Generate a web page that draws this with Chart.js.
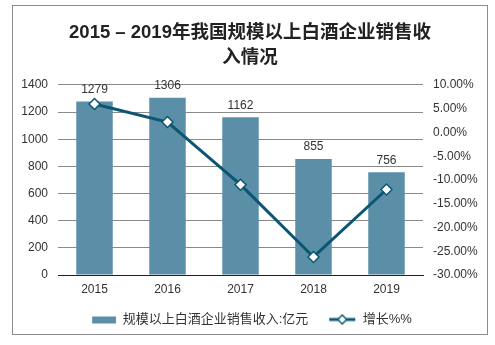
<!DOCTYPE html>
<html>
<head>
<meta charset="utf-8">
<script src="https://cdn.jsdelivr.net/npm/chart.js@4"></script>
<style>
  body { margin: 0; background: #fff; }
  #box { position: absolute; left: 12px; top: 5px; width: 476px; height: 330px; border: 1px solid #8c8c8c; box-sizing: border-box; }
  #box canvas { display: block; }
</style>
</head>
<body>
<div id="box"><canvas id="c" width="474" height="328"></canvas></div>
<script>
// データ
var years = ["2015", "2016", "2017", "2018", "2019"];
var revenue = [1279, 1306, 1162, 855, 756];
var growth = [6.0, 2.2, -11.0, -26.2, -12.0];
var barName = "规模以上白酒企业销售收入:亿元";
var lineName = "增长%%";
var titleLines = ["2015 – 2019年我国规模以上白酒企业销售收", "入情况"];

var barColor = "#5b8fa7";
var lineColor = "#0b5672";
var FONT = "'Liberation Sans', 'Noto Sans CJK SC', sans-serif";

// 凡例のマーク
function makeIcon(kind) {
  var cv = document.createElement("canvas");
  cv.width = 28; cv.height = 12;
  var g = cv.getContext("2d");
  if (kind === "bar") {
    g.fillStyle = barColor;
    g.fillRect(4, 3, 24, 7);
  } else {
    g.strokeStyle = lineColor;
    g.lineWidth = 3;
    g.beginPath(); g.moveTo(1, 6); g.lineTo(27, 6); g.stroke();
    g.fillStyle = "#fff";
    g.lineWidth = 1.5;
    g.beginPath(); g.moveTo(14, 1.5); g.lineTo(18.5, 6); g.lineTo(14, 10.5); g.lineTo(9.5, 6); g.closePath();
    g.fill(); g.stroke();
  }
  return cv;
}

// 棒の上に数値
var barLabels = {
  id: "barLabels",
  afterDatasetsDraw: function(chart) {
    var ctx = chart.ctx;
    var meta = chart.getDatasetMeta(0);
    ctx.save();
    ctx.font = "12px " + FONT;
    ctx.fillStyle = "#333";
    ctx.textAlign = "center";
    ctx.textBaseline = "bottom";
    meta.data.forEach(function(bar, i) {
      ctx.fillText(String(revenue[i]), bar.x, bar.y - 6);
    });
    ctx.restore();
  }
};

var ctx = document.getElementById("c").getContext("2d");
var chart = new Chart(ctx, {
  type: "bar",
  data: {
    labels: years,
    datasets: [{
      type: "bar",
      label: barName,
      data: revenue,
      backgroundColor: barColor,
      yAxisID: "y",
      categoryPercentage: 1,
      barPercentage: 0.5,
      order: 2
    }, {
      type: "line",
      label: lineName,
      data: growth,
      borderColor: lineColor,
      borderWidth: 3,
      pointStyle: "rectRot",
      pointRadius: 5.5,
      pointBackgroundColor: "#fff",
      pointBorderColor: lineColor,
      pointBorderWidth: 1.5,
      yAxisID: "y1",
      order: 1
    }]
  },
  options: {
    responsive: false,
    animation: false,
    layout: { padding: { top: 8, left: 0, right: 0, bottom: -2 } },
    plugins: {
      title: {
        display: true,
        text: titleLines,
        color: "#222",
        font: { family: FONT, size: 18.5, weight: "bold", lineHeight: 1.35 },
        padding: { top: 6, bottom: 15 }
      },
      legend: {
        position: "bottom",
        labels: {
          usePointStyle: true,
          pointStyleWidth: 28,
          color: "#333",
          font: { family: FONT, size: 13 },
          padding: 20,
          generateLabels: function(chart) {
            return [
              { text: barName, pointStyle: makeIcon("bar"), datasetIndex: 0, fontColor: "#333" },
              { text: lineName, pointStyle: makeIcon("line"), datasetIndex: 1, fontColor: "#333" }
            ];
          }
        }
      },
      tooltip: { enabled: false }
    },
    scales: {
      x: {
        afterFit: function(s) { s.height = 18; },
        grid: { display: false, drawTicks: false },
        border: { color: "#222", width: 1 },
        ticks: { color: "#333", font: { family: FONT, size: 12 }, padding: 7 }
      },
      y: {
        position: "left",
        min: 0, max: 1400,
        afterFit: function(s) { s.width = 45; },
        grid: { color: "#8a8a8a", drawTicks: false },
        border: { display: false },
        ticks: {
          stepSize: 200, color: "#333", font: { family: FONT, size: 12 }, padding: 10,
          callback: function(v) { return String(v); }
        }
      },
      y1: {
        position: "right",
        min: -30, max: 10,
        afterFit: function(s) { s.width = 64; },
        grid: { display: false, drawTicks: false },
        border: { display: false },
        ticks: {
          stepSize: 5, color: "#333", font: { family: FONT, size: 12 }, padding: 10,
          callback: function(v) { return v.toFixed(2) + "%"; }
        }
      }
    }
  },
  plugins: [barLabels]
});
</script>
</body>
</html>
